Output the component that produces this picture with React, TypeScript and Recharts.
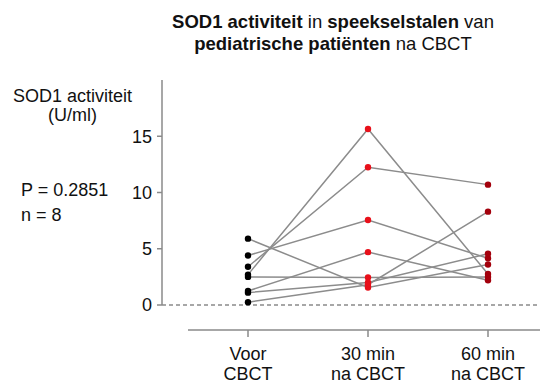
import React from 'react';
import { ComposedChart, Line, Scatter, XAxis, YAxis, ReferenceLine } from 'recharts';

const timepointLine1 = ['Voor', '30 min', '60 min'];
const timepointLine2 = ['CBCT', 'na CBCT', 'na CBCT'];
const yTicks = [0, 5, 10, 15];

// SOD1 activity (U/ml) per patient
const voor = [5.9, 4.4, 3.4, 2.7, 2.5, 1.25, 1.1, 0.25];
const min30 = [1.55, 7.55, 12.25, 15.65, 2.45, 4.7, 2.0, 1.8];
const min60 = [3.6, 4.15, 10.7, 2.75, 2.5, 2.2, 4.55, 8.3];

const FONT = '"Liberation Sans", Arial, sans-serif';
const AXIS = '#8a8a8a';
const LINE = '#8c8c8c';

const patients = voor.map((v, i) => [
  { x: 0, y: v },
  { x: 1, y: min30[i] },
  { x: 2, y: min60[i] },
]);
const ptsVoor = voor.map((y) => ({ x: 0, y }));
const pts30 = min30.map((y) => ({ x: 1, y }));
const pts60 = min60.map((y) => ({ x: 2, y }));

const dotShape = (color: string) => (props: any) => (
  <circle cx={props.cx} cy={props.cy} r={3.2} fill={color} />
);

const XTick = (props: any) => {
  const { x, y, payload } = props;
  const i = Math.round(payload.value);
  return (
    <text x={x} y={y} textAnchor="middle" fontFamily={FONT} fontSize={18} fill="#111">
      <tspan x={x} dy={21}>{timepointLine1[i]}</tspan>
      <tspan x={x} dy={20}>{timepointLine2[i]}</tspan>
    </text>
  );
};

const XMIN = -0.7167;
const YMIN = -2.222;

export default function App() {
  return (
    <div style={{ position: 'absolute', left: 0, top: 0, width: 540, height: 385, overflow: 'hidden', background: '#fff' }}>
      <ComposedChart width={560} height={385} margin={{ top: 80, right: 12, left: 102, bottom: 10 }}>
        <XAxis
          dataKey="x"
          type="number"
          domain={[XMIN, 2.5]}
          ticks={[0, 1, 2]}
          allowDataOverflow
          axisLine={false}
          tickSize={7}
          tickLine={{ stroke: AXIS, strokeWidth: 1.5 }}
          tick={<XTick />}
          height={45}
        />
        <YAxis
          type="number"
          domain={[YMIN, 20]}
          ticks={yTicks}
          allowDataOverflow
          axisLine={false}
          width={60}
          tickSize={5}
          tickMargin={5}
          tickLine={{ stroke: AXIS, strokeWidth: 1.5 }}
          tick={{ fontFamily: FONT, fontSize: 18, fill: '#111' }}
        />
        <ReferenceLine y={0} stroke={AXIS} strokeDasharray="4 3" strokeWidth={1.3} ifOverflow="visible" />
        <ReferenceLine segment={[{ x: XMIN, y: 0 }, { x: XMIN, y: 20 }]} stroke={AXIS} strokeWidth={1.5} ifOverflow="visible" />
        <ReferenceLine segment={[{ x: 2.5, y: 20 }, { x: XMIN + 0.03, y: 20 }]} stroke="none" ifOverflow="visible" />
        <ReferenceLine segment={[{ x: -0.5, y: YMIN }, { x: 2.5, y: YMIN }]} stroke={AXIS} strokeWidth={1.5} ifOverflow="visible" />
        {patients.map((d, i) => (
          <Line key={i} data={d} dataKey="y" stroke={LINE} strokeWidth={1.5} dot={false} activeDot={false} isAnimationActive={false} />
        ))}
        <Scatter data={ptsVoor} dataKey="y" fill="#000" shape={dotShape('#000')} isAnimationActive={false} />
        <Scatter data={pts30} dataKey="y" fill="#e8101a" shape={dotShape('#e8101a')} isAnimationActive={false} />
        <Scatter data={pts60} dataKey="y" fill="#a3000c" shape={dotShape('#a3000c')} isAnimationActive={false} />
      </ComposedChart>
      <svg width={540} height={385} style={{ position: 'absolute', left: 0, top: 0, pointerEvents: 'none' }}>
        <g fontFamily={FONT} fill="#111">
          <text x={333} y={28} textAnchor="middle" fontSize={18.5}>
            <tspan fontWeight="bold">SOD1 activiteit</tspan>
            <tspan> in </tspan>
            <tspan fontWeight="bold">speekselstalen</tspan>
            <tspan> van</tspan>
          </text>
          <text x={333} y={50} textAnchor="middle" fontSize={18.5}>
            <tspan fontWeight="bold">pediatrische patiënten</tspan>
            <tspan> na CBCT</tspan>
          </text>
          <text x={72.5} y={102} textAnchor="middle" fontSize={18}>SOD1 activiteit</text>
          <text x={72.5} y={121} textAnchor="middle" fontSize={18}>(U/ml)</text>
          <text x={21} y={196} fontSize={18}>P = 0.2851</text>
          <text x={21} y={221} fontSize={18}>n = 8</text>
        </g>
      </svg>
    </div>
  );
}
